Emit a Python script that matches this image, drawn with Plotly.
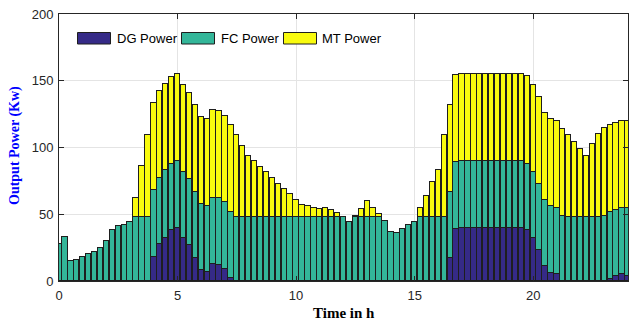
import plotly.graph_objects as go

# time axis (h), one bar every 15 minutes
hours = [i * 0.25 for i in range(97)]

# cumulative tops (kW)
dg_top = [0, 0, 0, 0, 0, 0, 0, 0, 0, 0, 0, 0, 0, 0, 0, 0,
          18, 27.5, 32.5, 38, 40, 32, 27, 17, 8, 6.5, 13, 12, 9, 2,
          0, 0, 0, 0, 0, 0, 0, 0, 0, 0, 0, 0, 0, 0, 0, 0, 0, 0, 0, 0,
          0, 0, 0, 0, 0, 0, 0, 0, 0, 0, 0, 0, 0, 0, 0, 0,
          17, 39, 40, 40, 40, 40, 40, 40, 40, 40, 40, 40, 40,
          38.5, 32, 23, 11, 6, 5,
          0, 0, 0, 0, 0, 0, 0, 0, 1.5, 3.5, 5, 4]
fc_top = [28, 33, 15, 16, 18, 20, 22, 24.5, 30, 38.5, 41, 42, 44, 48, 48, 48,
          68, 77, 83, 88, 90, 81.5, 76.5, 67, 58, 56.5, 62.5, 62, 59, 52,
          48, 48, 48, 48, 48, 48, 48, 48, 48, 48, 48, 48, 48, 48, 48, 48, 48, 48, 48, 44,
          48, 48, 48, 48, 48, 45, 37, 36, 39, 42, 44.5, 48, 48, 48, 48, 48,
          66.5, 89, 90, 90, 90, 90, 90, 90, 90, 90, 90, 90, 90,
          88, 82, 73, 61, 56, 55,
          48.5, 48, 48, 48, 48, 48, 48, 49, 52, 53.5, 55, 54.5]
mt_top = [28, 33, 15, 16, 18, 20, 22, 24.5, 30, 38.5, 41, 42, 44, 62, 86, 109.5,
          133, 142, 147.5, 153, 155, 147, 141, 132, 123, 121, 128, 127, 123.5, 117,
          109, 101.5, 94, 90, 85.5, 81.5, 77.5, 73, 69, 65, 61, 57, 56, 55, 54, 55, 53.5, 51, 48, 44,
          49, 54, 60, 55, 50, 45, 37, 36, 39, 42, 44.5, 55, 64, 74, 83.5, 109,
          132, 154, 155, 155, 155, 155, 155, 155, 155, 155, 155, 155, 155,
          153.5, 147, 137.5, 126, 121, 120,
          113.5, 109, 104, 99, 94, 103, 110, 114.5, 117, 118.5, 120, 119.5]

dg_power = dg_top
fc_power = [f - d for f, d in zip(fc_top, dg_top)]
mt_power = [m - f for m, f in zip(mt_top, fc_top)]

series_names = ["DG Power", "FC Power", "MT Power"]
series_values = [dg_power, fc_power, mt_power]
colors = ["#352A87", "#33B699", "#F9FB0E"]

x_ticks = [0, 5, 10, 15, 20]
y_ticks = [0, 50, 100, 150, 200]

fig = go.Figure()
for name, vals, col in zip(series_names, series_values, colors):
    fig.add_trace(go.Bar(
        x=hours, y=vals, name=name, width=0.225,
        marker=dict(color=col, line=dict(color="#1e1e1e", width=1)),
        showlegend=False,
    ))

axis_common = dict(
    showline=True, linecolor="#262626", linewidth=1, mirror="ticks",
    ticks="inside", ticklen=5, tickcolor="#262626",
    showgrid=True, gridcolor="#e4e4e4", gridwidth=1, zeroline=False,
    tickfont=dict(family="Liberation Sans, Arial", size=13, color="#262626"),
)
fig.update_xaxes(range=[0, 24], tickvals=x_ticks, ticklabelstandoff=2, **axis_common)
fig.update_yaxes(range=[0, 200], tickvals=y_ticks, ticklabelstandoff=2, **axis_common)

W, H = 629, 320
ml, mr, mt, mb = 59, 1, 14, 39
pw, ph = W - ml - mr, H - mt - mb

def px(x):
    return (x - ml) / pw

def py(y):
    return 1 - (y - mt) / ph

shapes = []
annotations = []
legend_items = [(77.5, 114.5), (181.5, 218.5), (283.5, 320)]
for (sx, tx), name, col in zip(legend_items, series_names, colors):
    shapes.append(dict(type="rect", xref="paper", yref="paper",
                       x0=px(sx), x1=px(sx + 33), y0=py(32.5), y1=py(44),
                       fillcolor=col, line=dict(color="#1e1e1e", width=1)))
    annotations.append(dict(text=name, xref="paper", yref="paper",
                            x=px(tx), y=py(38.5), xanchor="left", yanchor="middle",
                            showarrow=False,
                            font=dict(family="Liberation Sans, Arial", size=13, color="#000000")))

annotations.append(dict(text="<b>Time in h</b>", xref="paper", yref="paper",
                        x=px(344), y=py(313), xanchor="center", yanchor="middle",
                        showarrow=False,
                        font=dict(family="Liberation Serif, Times New Roman", size=15, color="#000000")))
annotations.append(dict(text="<b>Output Power (Kw)</b>", xref="paper", yref="paper",
                        x=px(15), y=py(146), xanchor="center", yanchor="middle",
                        textangle=-90, showarrow=False,
                        font=dict(family="Liberation Serif, Times New Roman", size=14, color="#0000FF")))

fig.update_layout(
    width=W, height=H, barmode="stack", bargap=0,
    margin=dict(l=ml, r=mr, t=mt, b=mb, autoexpand=False),
    plot_bgcolor="white", paper_bgcolor="white",
    shapes=shapes, annotations=annotations,
)

fig.write_html(
    "out.html",
    config={"displayModeBar": False},
    post_script="document.body.style.margin='0';document.body.style.padding='0';",
)
